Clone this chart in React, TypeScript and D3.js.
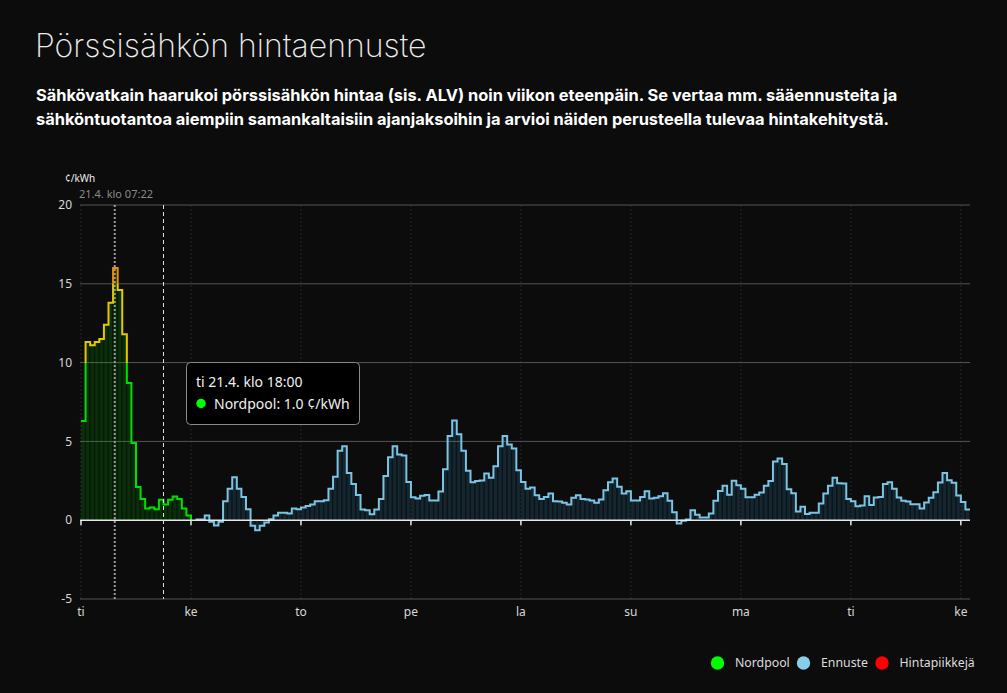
import * as d3 from 'd3';
import React, { useEffect, useRef } from 'react';

// hourly prices, c/kWh. hour 0 = ti 00:00
const dayLabels = ['ti', 'ke', 'to', 'pe', 'la', 'su', 'ma', 'ti', 'ke'];
const yTicks = [-5, 0, 5, 10, 15, 20];

const nordpool = [
  6.3, 11.3, 11.1, 11.3, 11.5, 12.4, 13.8, 16.0, 14.6, 11.8, 8.7, 4.9,
  2.1, 1.35, 0.75, 0.8, 0.7, 1.3, 1.0, 1.3, 1.5, 1.35, 0.75, 0.3,
];

const forecastStart = 25;
const forecast = [
  0.05, 0.05, 0.3, -0.1, -0.34, -0.1, 1.2, 2.0, 2.73, 2.0, 1.48, 0.7,
  -0.36, -0.63, -0.36, -0.15, 0.06, 0.3, 0.47, 0.47, 0.42, 0.74, 0.7,
  0.8, 0.9, 1.0, 1.2, 1.2, 1.27, 2.0, 2.75, 4.4, 4.7, 3.0, 2.3, 1.6,
  0.68, 0.63, 0.38, 0.68, 1.35, 2.8, 4.0, 4.7, 4.17, 4.1, 2.43,
  1.46, 1.38, 1.55, 1.6, 1.25, 1.25, 1.82, 3.24, 5.35, 6.33, 5.46, 4.4,
  3.13, 2.41, 2.48, 2.52, 2.96, 2.69, 3.43, 4.7, 5.35, 4.8, 4.55, 3.17,
  2.43, 2.0, 2.07, 1.59, 1.35, 1.48, 1.69, 1.2, 1.18, 1.1, 1.0, 1.43,
  1.59, 1.35, 1.31, 1.25, 1.1, 1.31, 1.9, 2.41, 2.65, 2.12, 1.69, 1.84,
  1.25, 1.25, 1.48, 1.84, 1.38, 1.42, 1.52, 1.71, 1.23, 0.5, -0.21, -0.04,
  0.04, 0.63, 0.34, 0.17, 0.17, 0.42, 1.23, 1.86, 2.18, 1.61, 2.5, 2.22,
  1.99, 1.46, 1.46, 1.61, 1.76, 2.18, 2.48, 3.72, 3.92, 3.56, 1.97, 1.71,
  0.55, 0.85, 0.4, 0.47, 0.47, 1.06, 1.69, 2.18, 2.7, 2.35, 2.33, 1.35,
  1.2, 0.89, 0.93, 1.52, 0.97, 1.44, 1.48, 2.3, 2.41, 2.0, 1.44, 1.23,
  1.19, 1.02, 1.02, 0.74, 1.12, 1.42, 1.78, 2.39, 3.0, 2.54, 2.37, 1.57,
  1.16, 0.68,
];

const nowHour = 7 + 22 / 60;
const hoverHour = 18;
const legendNames = ['Nordpool', 'Ennuste', 'Hintapiikkejä'];
const legendColors = ['#00ff00', '#87ceeb', '#ff0000'];

const W = 1007;
const H = 693;
const FONT = '"Noto Sans", sans-serif';

const App = () => {
  const chartRef = useRef(null);

  useEffect(() => {
    drawChart();
  }, []);

  const drawChart = () => {
    const svg = d3.select(chartRef.current);
    svg.selectAll('*').remove();

    const x = d3.scaleLinear().domain([0, 194]).range([81, 970]);
    const y = d3.scaleLinear().domain([-5, 20]).range([599, 205]);

    const np = nordpool.map((v, i) => ({ h: i, v }));
    const fc = forecast.map((v, i) => ({ h: forecastStart + i, v }));

    svg.append('rect').attr('width', W).attr('height', H).attr('fill', '#0c0c0c');

    // title + description
    svg.append('text')
      .attr('x', 35).attr('y', 57)
      .style('font-family', 'Inter').style('font-weight', 200).style('font-size', '32px')
      .attr('fill', '#ececec')
      .text('Pörssisähkön hintaennuste');

    const desc = [
      'Sähkövatkain haarukoi pörssisähkön hintaa (sis. ALV) noin viikon eteenpäin. Se vertaa mm. sääennusteita ja',
      'sähköntuotantoa aiempiin samankaltaisiin ajanjaksoihin ja arvioi näiden perusteella tulevaa hintakehitystä.',
    ];
    svg.selectAll('.desc').data(desc).enter().append('text')
      .attr('x', 36).attr('y', (d, i) => 101 + i * 24)
      .style('font-family', 'Inter').style('font-weight', 700).style('font-size', '16.4px')
      .attr('fill', '#ffffff')
      .text(d => d);

    // gradient for nordpool line
    const defs = svg.append('defs');
    const grad = defs.append('linearGradient')
      .attr('id', 'npGrad').attr('gradientUnits', 'userSpaceOnUse')
      .attr('x1', 0).attr('x2', 0).attr('y1', y(0)).attr('y2', y(20));
    const stops = [
      [0, '#00e000'], [0.5, '#00e000'], [0.5, '#e6c800'],
      [0.75, '#e6c800'], [0.75, '#f08c00'], [1, '#f08c00'],
    ];
    grad.selectAll('stop').data(stops).enter().append('stop')
      .attr('offset', d => d[0]).attr('stop-color', d => d[1]);

    // grid
    const g = svg.append('g');
    g.selectAll('.vgrid').data(dayLabels).enter().append('line')
      .attr('x1', (d, i) => x(i * 24)).attr('x2', (d, i) => x(i * 24))
      .attr('y1', y(20)).attr('y2', y(-5))
      .attr('stroke', '#262626').attr('stroke-dasharray', '2,2');

    g.selectAll('.hgrid').data(yTicks.filter(t => t !== 0)).enter().append('line')
      .attr('x1', 80).attr('x2', 970)
      .attr('y1', d => y(d)).attr('y2', d => y(d))
      .attr('stroke', '#555').attr('stroke-width', 1);

    g.selectAll('.ylab').data(yTicks).enter().append('text')
      .attr('x', 72).attr('y', d => y(d)).attr('dy', '0.35em')
      .attr('text-anchor', 'end')
      .style('font-family', FONT).style('font-size', '12px')
      .attr('fill', '#d8d8d8')
      .text(d => d);

    g.selectAll('.xlab').data(dayLabels).enter().append('text')
      .attr('x', (d, i) => x(i * 24)).attr('y', 612).attr('dy', '0.35em')
      .attr('text-anchor', 'middle')
      .style('font-family', FONT).style('font-size', '12px')
      .attr('fill', '#d8d8d8')
      .text(d => d);

    svg.append('text')
      .attr('x', 65).attr('y', 178).attr('dy', '0.35em')
      .style('font-family', FONT).style('font-size', '10px')
      .attr('fill', '#eeeeee')
      .text('¢/kWh');

    svg.append('text')
      .attr('x', 79).attr('y', 194).attr('dy', '0.35em')
      .style('font-family', FONT).style('font-size', '11px')
      .attr('fill', '#8a8a8a')
      .text('21.4. klo 07:22');

    // bars + areas
    const drawSeries = (data, barFill, bgFill, stroke, dropEnd) => {
      const last = data[data.length - 1];
      const area = d3.area()
        .x(d => x(d.h)).y0(y(0)).y1(d => y(d.v))
        .curve(d3.curveStepAfter);
      const pts = [...data, { h: last.h + 1, v: last.v }];
      svg.append('path').attr('d', area(pts)).attr('fill', bgFill);

      svg.append('g').selectAll('rect').data(data).enter().append('rect')
        .attr('x', d => x(d.h) + 0.5)
        .attr('width', d => x(d.h + 1) - x(d.h) - 1.5)
        .attr('y', d => Math.min(y(d.v), y(0)))
        .attr('height', d => Math.abs(y(d.v) - y(0)))
        .attr('fill', barFill);

      const line = d3.line().x(d => x(d.h)).y(d => y(d.v)).curve(d3.curveStepAfter);
      const linePts = dropEnd ? [...pts, { h: last.h + 1, v: 0 }] : pts;
      svg.append('path').attr('d', line(linePts))
        .attr('fill', 'none').attr('stroke', stroke)
        .attr('stroke-width', 2).attr('stroke-linejoin', 'miter');
    };

    drawSeries(np, 'rgba(0,200,0,0.14)', 'rgba(0,200,0,0.06)', 'url(#npGrad)', true);
    drawSeries(fc, 'rgba(60,160,210,0.14)', 'rgba(60,160,210,0.05)', '#7cc4e4', false);

    // zero line + day ticks
    svg.append('line')
      .attr('x1', 80).attr('x2', 970).attr('y1', y(0)).attr('y2', y(0))
      .attr('stroke', '#e8e8e8').attr('stroke-width', 1.5);
    svg.selectAll('.xtick').data(dayLabels).enter().append('line')
      .attr('x1', (d, i) => x(i * 24)).attr('x2', (d, i) => x(i * 24))
      .attr('y1', y(0)).attr('y2', y(0) + 5)
      .attr('stroke', '#e8e8e8').attr('stroke-width', 1.5);

    // now marker + hover line
    svg.append('line')
      .attr('x1', x(nowHour)).attr('x2', x(nowHour))
      .attr('y1', y(20)).attr('y2', y(-5))
      .attr('stroke', '#9a9a9a').attr('stroke-width', 2).attr('stroke-dasharray', '2,2');
    svg.append('line')
      .attr('x1', x(hoverHour)).attr('x2', x(hoverHour))
      .attr('y1', y(20)).attr('y2', y(-5))
      .attr('stroke', '#e0e0e0').attr('stroke-width', 1).attr('stroke-dasharray', '4,3');

    // tooltip
    const tip = svg.append('g').attr('transform', 'translate(186,362)');
    tip.append('rect')
      .attr('x', 0.5).attr('y', 0.5).attr('width', 173).attr('height', 62).attr('rx', 4)
      .attr('fill', '#000').attr('stroke', '#8a8a8a');
    tip.append('text')
      .attr('x', 10).attr('y', 25)
      .style('font-family', FONT).style('font-size', '14px')
      .attr('fill', '#f0f0f0')
      .text('ti 21.4. klo 18:00');
    tip.append('circle').attr('cx', 15).attr('cy', 41.5).attr('r', 4.7).attr('fill', '#00ff00');
    tip.append('text')
      .attr('x', 28).attr('y', 46.5)
      .style('font-family', FONT).style('font-size', '14px')
      .attr('fill', '#f0f0f0')
      .text(`Nordpool: ${nordpool[hoverHour].toFixed(1)} ¢/kWh`);

    // legend
    const legX = [717.5, 803.5, 882];
    const leg = svg.append('g');
    leg.selectAll('circle').data(legendNames).enter().append('circle')
      .attr('cx', (d, i) => legX[i]).attr('cy', 663).attr('r', 6.7)
      .attr('fill', (d, i) => legendColors[i]);
    leg.selectAll('text').data(legendNames).enter().append('text')
      .attr('x', (d, i) => legX[i] + 17.5).attr('y', 663).attr('dy', '0.35em')
      .style('font-family', FONT).style('font-size', '12.3px')
      .attr('fill', '#dddddd')
      .text(d => d);
  };

  return (
    <svg
      ref={chartRef}
      width={W}
      height={H}
      style={{ position: 'absolute', left: 0, top: 0, display: 'block' }}
    ></svg>
  );
};

export default App;
